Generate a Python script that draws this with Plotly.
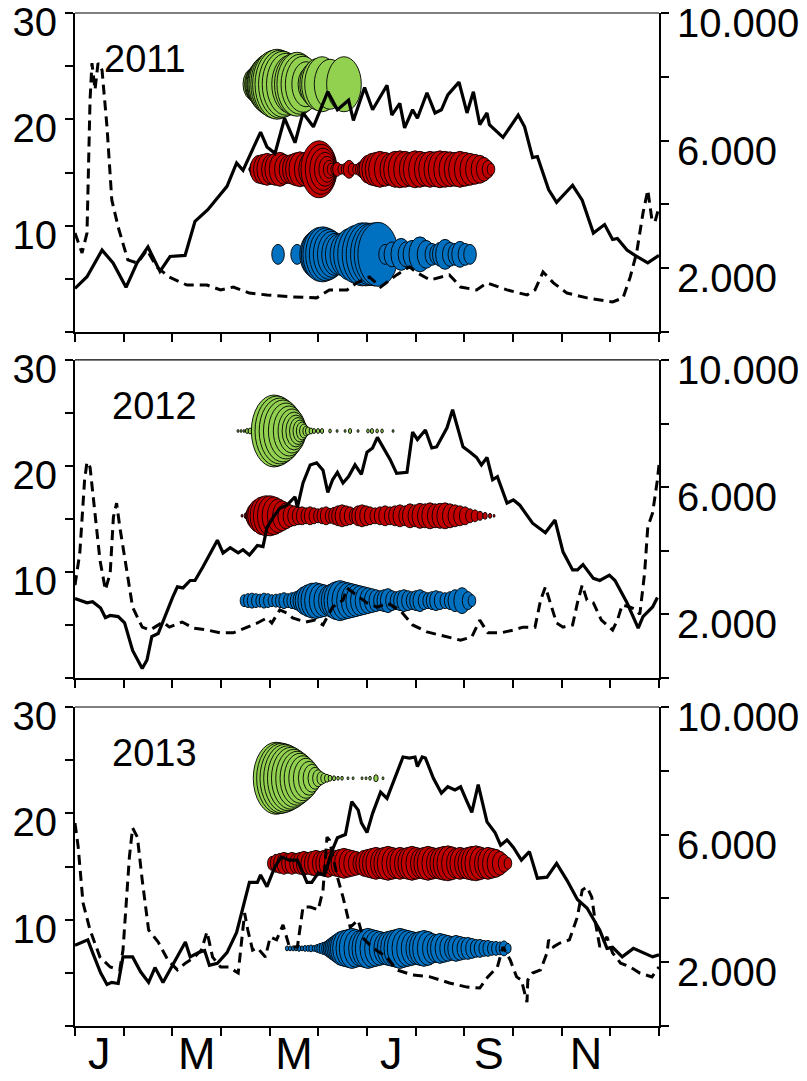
import plotly.graph_objects as go

# ---------------------------------------------------------------- labels
YEARS = ["2011", "2012", "2013"]
MONTH_LABELS = ["J", "M", "M", "J", "S", "N"]
LEFT_TICK_VALS = [0, 5, 10, 15, 20, 25, 30]
LEFT_TICK_TEXT = ["", "", "10", "", "20", "", "30"]
RIGHT_TICK_VALS = [0, 2000, 4000, 6000, 8000, 10000]
RIGHT_TICK_TEXT = ["", "2.000", "", "6.000", "", "10.000"]

# ---------------------------------------------------------------- water temperature (left axis, solid)
T2011_DAY = [0, 7.5, 16.9, 23.8, 31.9, 38.8, 45.6, 53.1, 59.4, 68.8, 75, 83, 89, 95, 101, 105, 116, 120,
             125, 131, 137.5, 142.5, 149, 158, 164, 171, 174, 181, 186, 195, 198, 203, 206, 211, 214, 220,
             225, 229, 233, 240, 245, 249, 253, 257.5, 259, 267.5, 277, 281, 286, 289, 296, 301, 311, 317,
             324, 331, 336, 339, 345, 350, 358, 365]
T2011 = [4.1, 5.2, 7.7, 6.5, 4.2, 6.5, 8.0, 5.7, 7.1, 7.2, 10.4, 11.5, 12.6, 13.7, 15.9, 15.2, 18.8, 17.4,
         16.8, 20.1, 17.8, 20.6, 19.3, 22.6, 20.9, 21.8, 19.9, 23.0, 20.9, 23.2, 20.4, 21.5, 19.2, 20.9, 20.1,
         22.5, 20.6, 20.9, 22.3, 23.5, 20.6, 22.6, 19.5, 20.6, 19.5, 18.3, 20.4, 19.3, 16.4, 16.5, 13.4, 12.2,
         13.8, 12.4, 9.3, 10.1, 8.7, 8.8, 7.7, 7.2, 6.5, 7.2]

T2012_DAY = [0, 7.5, 11, 16, 19, 22, 27, 31, 36, 42, 45, 48, 52, 57.5, 61, 64, 67.5, 72, 75, 80, 89, 92.5,
             97, 102, 105, 109, 114, 117.5, 120, 124, 128, 132.5, 137.5, 139, 142.5, 147, 151, 155, 158,
             161, 164, 167.5, 171, 175, 179, 182.5, 186, 189, 192.5, 197, 201, 207.5, 211, 214, 219, 223,
             226, 229, 232.5, 236, 239, 242.5, 247, 251, 254, 257.5, 261, 264, 270, 274, 278, 286, 294, 300,
             305, 311, 314, 317.5, 324, 328, 334, 337.5, 345, 352, 355, 361, 364]
T2012 = [7.5, 7.1, 7.2, 6.6, 5.7, 5.9, 5.8, 5.2, 2.6, 0.9, 1.7, 3.9, 4.2, 6.4, 7.6, 8.6, 8.5, 9.2, 9.2, 10.5,
         13.0, 11.8, 12.3, 11.8, 12.1, 11.6, 12.5, 12.4, 14.2, 15.2, 16.0, 16.3, 17.1, 16.1, 18.4, 20.1, 20.3,
         19.6, 17.5, 18.7, 19.4, 18.4, 19.0, 20.1, 19.2, 21.3, 21.7, 22.7, 21.8, 20.6, 19.3, 19.4, 23.2, 22.5,
         23.4, 21.7, 21.8, 22.7, 23.6, 25.3, 23.7, 21.8, 21.3, 20.8, 20.1, 20.8, 18.7, 19.0, 16.5, 16.8, 16.3,
         14.6, 13.7, 14.9, 11.9, 10.2, 10.2, 10.7, 9.4, 9.2, 9.7, 9.2, 7.1, 4.7, 5.8, 6.7, 7.6]

T2013_DAY = [0, 8, 11, 16, 20, 23, 27, 30, 36, 41, 46, 50, 55, 61, 69, 72, 77, 81, 84, 89, 95, 101, 105, 109,
             114, 116, 120, 125, 129, 134, 139, 145, 148, 152, 156, 161, 164, 169, 173, 177, 179, 182.5, 186,
             191, 195, 201, 205, 209, 212.5, 214, 217, 219, 224, 229, 233, 237.5, 241, 245, 248, 252, 257.5,
             262.5, 266, 270, 274, 279, 284, 289, 295, 301, 307.5, 314, 320, 328, 332.5, 336, 342, 349, 355,
             361, 365]
T2013 = [7.6, 8.1, 6.9, 5.0, 3.9, 4.1, 4.0, 6.5, 6.5, 5.1, 4.1, 5.5, 4.1, 5.7, 7.9, 6.5, 6.9, 7.1, 5.7, 5.9,
         6.9, 8.8, 11.2, 13.5, 13.5, 14.2, 13.1, 15.0, 15.9, 15.6, 15.6, 13.5, 13.5, 14.4, 14.2, 16.6, 17.7,
         18.0, 21.1, 20.3, 19.1, 18.2, 20.0, 22.0, 21.4, 23.8, 25.3, 25.2, 25.3, 24.4, 25.3, 25.2, 23.3, 21.9,
         22.5, 22.2, 22.5, 21.1, 20.1, 22.7, 19.2, 18.2, 17.0, 17.5, 16.8, 15.6, 16.4, 13.9, 14.0, 15.3, 13.7,
         11.9, 11.1, 9.0, 7.3, 7.4, 6.5, 7.3, 6.9, 6.5, 6.7]

# ---------------------------------------------------------------- discharge (right axis, dashed)
Q2011_DAY = [0, 4.4, 7.5, 9.4, 10.6, 12.5, 14.4, 16.9, 20, 23, 27, 33, 39, 45, 51, 59, 70, 82.5, 91, 99, 109,
             120, 136, 151, 159, 170, 176, 184, 191, 201, 209, 214, 222, 228, 234, 241, 251, 257.5, 270,
             282.5, 287.5, 292.5, 299, 307.5, 320, 336, 342.5, 347, 351, 355, 358, 360.6, 362.5, 365]
Q2011 = [3100, 2480, 3100, 7270, 8430, 7590, 8430, 8210, 6430, 4140, 3290, 2260, 2160, 2570, 2040, 1720,
         1470, 1470, 1320, 1410, 1220, 1160, 1100, 1070, 1320, 1320, 1540, 1720, 1410, 1790, 2040, 1850,
         1630, 1720, 1790, 1410, 1320, 1540, 1320, 1160, 1320, 1880, 1540, 1220, 1070, 940, 1070, 1720,
         2480, 3730, 4450, 3510, 3450, 3920]

Q2012_DAY = [0, 3, 6, 7.5, 9.4, 12.5, 15.6, 19, 22, 24, 26, 28, 32.5, 36, 42, 47, 55, 59, 67, 74, 82.5, 91,
             99, 107.5, 114, 120, 123, 128, 132.5, 136, 144, 150, 155, 161, 167.5, 170, 174, 182.5, 189,
             195, 203, 211, 220, 232.5, 241, 248, 253, 258, 266, 274, 280, 287.5, 291, 294, 297, 301, 305,
             311, 314, 317, 320, 324, 329, 336, 339, 342, 347, 351, 353, 356, 358, 361, 364, 365]
Q2012 = [2920, 3930, 6230, 6790, 6630, 5060, 3710, 2770, 3300, 5060, 5500, 4750, 3300, 2230, 1600, 1510,
         1760, 1600, 1760, 1570, 1510, 1420, 1420, 1600, 1730, 1890, 1730, 2140, 2040, 1890, 1760, 1820,
         1670, 2230, 2450, 2830, 2670, 2360, 2230, 2360, 2140, 1670, 1450, 1290, 1190, 1290, 1820, 1420,
         1420, 1510, 1600, 1600, 2450, 2860, 2360, 1730, 1600, 1670, 2360, 2920, 2450, 2360, 1820, 1510,
         1820, 2300, 2230, 2140, 2000, 3300, 4750, 5190, 6230, 6700]

Q2013_DAY = [0, 2, 5, 9.4, 15.6, 22, 28, 30, 34, 36, 39, 42, 46, 52, 58, 64, 69, 74, 79, 82.5, 86, 91, 96,
             102, 106, 108, 111, 114, 119, 122, 126, 130, 134, 139, 142.5, 147, 152, 155, 157.5, 159, 164,
             167.5, 172, 177, 180, 186, 195, 201, 211, 222, 234, 245, 253, 258, 264, 267.5, 272, 276, 279,
             282.5, 283, 286, 291, 295, 296, 299, 303, 309, 314, 317, 320, 323, 325, 328, 332.5, 336, 341,
             347, 353, 360.6, 365]
Q2013 = [6360, 5610, 3860, 3010, 2160, 1850, 1760, 2380, 5300, 6210, 5920, 4580, 3010, 2630, 2070, 1760,
         1970, 2130, 2380, 2950, 2160, 1850, 1850, 1660, 3540, 3010, 2380, 2450, 2160, 2790, 2700, 3170,
         2480, 2480, 3730, 3730, 3640, 4260, 5920, 5830, 4670, 4040, 3100, 3320, 2760, 2450, 2160, 1760,
         1600, 1540, 1350, 1220, 1190, 1540, 1850, 2480, 2070, 1540, 1440, 750, 1440, 1660, 1760, 2290,
         2700, 2480, 2600, 2700, 3420, 4260, 4360, 4040, 3320, 2480, 2790, 2290, 1970, 1850, 1660, 1540, 1850]

# ---------------------------------------------------------------- catches per sampling day (bubble height)
G2011_DAY = [111.3, 113.1, 115.0, 116.9, 118.8, 120.6, 122.5, 124.4, 126.3, 128.1, 130.0, 131.9, 134.4,
             136.9, 138.8, 140.6, 142.5, 144.4, 146.3, 147.5, 149.4, 151.9, 154.4, 159.4, 168.1]
G2011_SIZE = [32, 36, 42, 48, 55, 60, 64, 68, 70, 68, 66, 62, 58, 62, 64, 60, 56, 45, 35, 30, 45, 52, 55, 50, 55]

R2011_DAY = [109.4, 111.3, 113.1, 115.0, 117.5, 120.0, 122.5, 125.0, 128.1, 130.6, 133.1, 135.6, 138.1,
             140.6, 143.8, 146.9, 152.5, 153.8, 155.0, 156.3, 157.5, 158.8, 160.0, 161.9, 163.8, 166.3,
             168.8, 171.3, 173.1, 175.6, 178.1, 180.6, 183.1, 185.6, 188.1, 190.6, 193.8, 196.9, 200.0,
             203.1, 206.3, 209.4, 212.5, 215.6, 218.8, 221.9, 225.0, 228.1, 231.3, 234.4, 237.5, 240.6,
             243.8, 246.9, 250.0, 253.1, 255.6, 258.1, 260.0]
R2011_SIZE = [4, 10, 20, 28, 30, 32, 30, 32, 34, 30, 28, 30, 33, 35, 34, 36, 57, 50, 42, 34, 26, 18, 12, 10,
              14, 10, 12, 18, 12, 10, 14, 20, 28, 32, 34, 36, 34, 32, 36, 37, 36, 34, 37, 36, 34, 36, 35, 37,
              36, 35, 34, 36, 34, 32, 30, 28, 24, 18, 12]

B2011_DAY = [126.9, 138.8, 149.4, 151.3, 153.1, 155.0, 156.9, 158.8, 160.6, 162.5, 164.4, 168.1, 171.9,
             175.6, 179.4, 181.9, 184.4, 186.9, 189.4, 193.8, 198.1, 203.8, 206.9, 210.6, 215.6, 219.4,
             223.1, 225.6, 228.1, 231.3, 234.4, 237.5, 240.6, 243.8, 246.9]
B2011_SIZE = [20, 20, 45, 50, 54, 55, 53, 50, 46, 42, 40, 44, 52, 58, 63, 63, 62, 63, 64, 20, 25, 32, 25, 28,
              35, 28, 22, 20, 24, 30, 24, 22, 26, 22, 20]

G2012_DAY = [101.9, 103.8, 105.6, 107.5, 109.4, 124.4, 126.3, 128.1, 130.0, 131.9, 133.8, 135.6, 136.9,
             138.1, 139.4, 140.6, 141.9, 143.1, 144.4, 145.6, 147.5, 149.4, 151.9, 154.4, 159.4, 163.8,
             168.8, 171.9, 176.9, 183.1, 185.6, 188.8, 191.9, 198.8]
G2012_SIZE = [3, 3, 3, 5, 6, 72, 70, 66, 62, 56, 50, 44, 38, 32, 27, 22, 18, 14, 10, 8, 6, 5, 5, 5, 4, 3, 3,
              5, 3, 4, 5, 4, 4, 3]

R2012_DAY = [104.4, 106.9, 109.4, 111.9, 114.4, 116.9, 119.4, 121.9, 124.4, 126.9, 129.4, 131.9, 134.4,
             136.9, 139.4, 141.9, 144.4, 146.9, 149.4, 151.9, 154.4, 156.9, 159.4, 161.9, 164.4, 166.9,
             169.4, 171.9, 174.4, 176.9, 179.4, 181.9, 184.4, 187.5, 190.6, 193.8, 196.9, 200.0, 203.1,
             206.3, 209.4, 212.5, 215.6, 218.8, 221.9, 225.0, 228.1, 231.3, 234.4, 237.5, 240.6, 243.8,
             246.9, 250.0, 253.1, 256.3, 259.4, 261.9]
R2012_SIZE = [3, 6, 14, 25, 33, 38, 40, 40, 38, 34, 30, 26, 22, 20, 18, 18, 16, 18, 16, 14, 16, 18, 15, 17,
              20, 22, 20, 18, 15, 20, 22, 20, 18, 16, 18, 20, 18, 20, 22, 20, 24, 22, 25, 24, 26, 24, 25, 26,
              24, 22, 20, 18, 14, 12, 9, 7, 5, 3]

B2012_DAY = [105.6, 108.1, 110.6, 113.1, 115.6, 118.1, 120.6, 123.1, 125.6, 128.1, 130.6, 133.1, 135.6,
             138.1, 140.6, 143.1, 145.6, 148.1, 150.6, 153.1, 155.6, 158.1, 160.6, 163.1, 165.6, 168.1,
             170.6, 173.1, 175.6, 178.1, 180.6, 183.1, 185.6, 188.1, 190.6, 193.1, 195.6, 198.1, 200.6,
             203.1, 205.6, 208.1, 210.6, 213.1, 215.6, 218.1, 220.6, 223.1, 225.6, 228.1, 231.3, 234.4,
             237.5, 241.9, 245.6, 248.1]
B2012_SIZE = [12, 14, 15, 14, 13, 15, 14, 12, 13, 14, 16, 14, 16, 18, 22, 28, 32, 35, 36, 34, 32, 30, 34, 38,
              40, 38, 36, 34, 32, 30, 28, 26, 24, 22, 20, 22, 24, 20, 18, 20, 22, 20, 18, 20, 22, 18, 16, 18,
              20, 18, 16, 18, 22, 26, 18, 12]

G2013_DAY = [125.6, 127.5, 129.4, 131.3, 133.1, 135.0, 136.9, 138.8, 140.6, 142.5, 144.4, 146.3, 148.1,
             150.0, 151.9, 153.8, 155.6, 157.5, 159.4, 161.9, 164.4, 166.9, 170.6, 173.8, 179.4, 181.9,
             184.4, 188.1, 192.5]
G2013_SIZE = [72, 71, 70, 68, 65, 62, 58, 54, 50, 45, 40, 34, 28, 22, 17, 13, 10, 8, 6, 5, 4, 4, 3, 3, 3, 3,
              4, 7, 3]

R2013_DAY = [123.1, 125.6, 128.1, 130.6, 133.1, 135.6, 138.1, 140.6, 143.1, 145.6, 148.1, 150.6, 153.1,
             155.6, 158.1, 160.6, 163.1, 165.6, 168.1, 170.6, 173.1, 175.6, 178.1, 180.6, 183.1, 185.6,
             188.1, 190.6, 193.1, 195.6, 198.1, 200.6, 203.1, 205.6, 208.1, 210.6, 213.1, 215.6, 218.1,
             220.6, 223.1, 225.6, 228.1, 230.6, 233.1, 235.6, 238.1, 240.6, 243.1, 245.6, 248.1, 250.6,
             253.1, 255.6, 258.1, 260.6, 263.1, 265.6, 268.1, 270.6]
R2013_SIZE = [14, 18, 20, 22, 20, 22, 20, 22, 24, 22, 24, 26, 24, 26, 28, 24, 26, 28, 30, 28, 26, 24, 22, 26,
              28, 30, 32, 30, 32, 34, 32, 30, 32, 30, 32, 34, 32, 30, 32, 34, 32, 30, 32, 34, 35, 33, 30, 32,
              30, 32, 34, 35, 33, 30, 32, 30, 28, 24, 18, 12]

B2013_DAY = [132.5, 134.4, 136.3, 138.1, 140.0, 141.9, 143.8, 145.6, 147.5, 149.4, 151.3, 153.1, 155.0,
             156.9, 158.8, 160.6, 162.5, 164.4, 166.3, 168.1, 170.6, 173.1, 175.6, 178.1, 180.6, 183.1,
             185.6, 188.1, 190.6, 193.1, 195.6, 198.1, 200.6, 203.1, 205.6, 208.1, 210.6, 213.1, 215.6,
             218.1, 220.6, 223.1, 225.6, 228.1, 230.6, 233.1, 235.6, 238.1, 240.6, 243.1, 245.6, 248.1,
             250.6, 253.1, 255.6, 258.1, 260.6, 263.1, 265.6, 268.1, 270.6]
B2013_SIZE = [5, 5, 5, 5, 6, 5, 6, 6, 7, 6, 8, 10, 12, 14, 18, 22, 26, 30, 34, 36, 38, 40, 38, 36, 38, 40,
              38, 36, 34, 32, 34, 36, 38, 40, 38, 36, 34, 32, 34, 36, 34, 30, 28, 30, 28, 26, 24, 26, 24, 22,
              22, 20, 18, 18, 16, 16, 14, 14, 13, 15, 10]

# level (left axis) at which each bubble row is drawn
GREEN_LEVEL, RED_LEVEL, BLUE_LEVEL = 23.3, 15.3, 7.3

# ---------------------------------------------------------------- styling
FONT = "Liberation Sans, Arial, Helvetica, sans-serif"
GREEN, RED, BLUE = "#92D050", "#C00000", "#0070C0"
PX_PER_UNIT = 1.0      # bubble height in pixels per size unit
ASPECT = 0.63          # bubble width / height
DOMAINS = [(0.6851, 1.0), (0.3435, 0.6575), (0.0, 0.3149)]
YEAR_LABEL_X = [44, 49.5, 49.5]

temperature = [(T2011_DAY, T2011), (T2012_DAY, T2012), (T2013_DAY, T2013)]
discharge = [(Q2011_DAY, Q2011), (Q2012_DAY, Q2012), (Q2013_DAY, Q2013)]
rows = [
    [(GREEN, GREEN_LEVEL, G2011_DAY, G2011_SIZE), (RED, RED_LEVEL, R2011_DAY, R2011_SIZE),
     (BLUE, BLUE_LEVEL, B2011_DAY, B2011_SIZE)],
    [(GREEN, GREEN_LEVEL, G2012_DAY, G2012_SIZE), (RED, RED_LEVEL, R2012_DAY, R2012_SIZE),
     (BLUE, BLUE_LEVEL, B2012_DAY, B2012_SIZE)],
    [(GREEN, GREEN_LEVEL, G2013_DAY, G2013_SIZE), (RED, RED_LEVEL, R2013_DAY, R2013_SIZE),
     (BLUE, BLUE_LEVEL, B2013_DAY, B2013_SIZE)],
]

month_len = 365 / 12
month_ticks = [i * month_len for i in range(13)]
label_ticks = [(2 * i + 0.5) * month_len for i in range(len(MONTH_LABELS))]

fig = go.Figure()
shapes, annotations, axes = [], [], {}

for i, year in enumerate(YEARS):
    xn = "x" if i == 0 else f"x{i + 1}"
    yl = "y" if i == 0 else f"y{2 * i + 1}"
    yr = f"y{2 * i + 2}"
    xkey = "xaxis" if i == 0 else f"xaxis{i + 1}"
    ylkey = "yaxis" if i == 0 else f"yaxis{2 * i + 1}"
    yrkey = f"yaxis{2 * i + 2}"

    axes[xkey] = dict(domain=[0, 1], anchor=yl, range=[0, 365], tickmode="array", tickvals=month_ticks,
                      showticklabels=False, ticks="outside", ticklen=8, tickwidth=1.5, tickcolor="black",
                      showline=True, linewidth=2, linecolor="black", showgrid=False, zeroline=False,
                      automargin=False)
    axes[ylkey] = dict(domain=list(DOMAINS[i]), anchor=xn, range=[0, 30], tickmode="array",
                       tickvals=LEFT_TICK_VALS, ticktext=LEFT_TICK_TEXT, ticks="outside", ticklen=8,
                       tickwidth=1.5, tickcolor="black", showline=True, linewidth=2, linecolor="black",
                       showgrid=False, zeroline=False, automargin=False, ticklabeloverflow="allow",
                       ticklabelshift=9,
                       tickfont=dict(family=FONT, size=40, color="black"))
    axes[yrkey] = dict(overlaying=yl, anchor=xn, side="right", range=[0, 10000], tickmode="array",
                       tickvals=RIGHT_TICK_VALS, ticktext=RIGHT_TICK_TEXT, ticks="outside", ticklen=8,
                       tickwidth=1.5, tickcolor="black", showline=True, linewidth=2, linecolor="black",
                       showgrid=False, zeroline=False, automargin=False, ticklabeloverflow="allow",
                       ticklabelshift=10,
                       tickfont=dict(family=FONT, size=40, color="black"))

    # frame along the top of the panel
    shapes.append(dict(type="line", xref=f"{xn} domain", yref=f"{yl} domain", x0=0, x1=1, y0=1, y1=1,
                       line=dict(color="black", width=1.2)))

    # bubble rows, drawn in date order so later days sit on top
    for color, level, days, sizes in rows[i]:
        for d, s in zip(days, sizes):
            h = s * PX_PER_UNIT
            w = h * ASPECT
            shapes.append(dict(type="circle", layer="below", xref=xn, yref=yl,
                               xsizemode="pixel", ysizemode="pixel", xanchor=d, yanchor=level,
                               x0=-w / 2, x1=w / 2, y0=-h / 2, y1=h / 2,
                               fillcolor=color, line=dict(color="black", width=0.9)))

    tx, ty = temperature[i]
    fig.add_trace(go.Scatter(x=tx, y=ty, xaxis=xn, yaxis=yl, mode="lines",
                             line=dict(color="black", width=3.2), showlegend=False, hoverinfo="skip"))
    qx, qy = discharge[i]
    fig.add_trace(go.Scatter(x=qx, y=qy, xaxis=xn, yaxis=yr, mode="lines",
                             line=dict(color="black", width=3, dash="10px,6px"),
                             showlegend=False, hoverinfo="skip"))

    annotations.append(dict(xref=xn, yref=yl, x=YEAR_LABEL_X[i], y=25.7, text=year, showarrow=False,
                            xanchor="center", yanchor="middle",
                            font=dict(family=FONT, size=38, color="black")))

# month initials under the bottom panel, centred on their months
axes["xaxis4"] = dict(overlaying="x3", anchor="y5", side="bottom", range=[0, 365], tickmode="array",
                      tickvals=label_ticks, ticktext=MONTH_LABELS, ticks="", showline=False,
                      showgrid=False, zeroline=False, automargin=False, ticklabeloverflow="allow",
                      ticklabelstandoff=-3,
                      tickfont=dict(family=FONT, size=45, color="black"))
fig.add_trace(go.Scatter(x=[label_ticks[0]], y=[None], xaxis="x4", yaxis="y5", mode="markers",
                         showlegend=False, hoverinfo="skip"))

fig.update_layout(
    template="none",
    width=807, height=1081, autosize=False,
    margin=dict(l=75, r=148, t=13, b=55, pad=0),
    paper_bgcolor="white", plot_bgcolor="rgba(0,0,0,0)",
    showlegend=False,
    shapes=shapes, annotations=annotations,
    font=dict(family=FONT, color="black"),
    **axes,
)

fig.write_html("out.html")
